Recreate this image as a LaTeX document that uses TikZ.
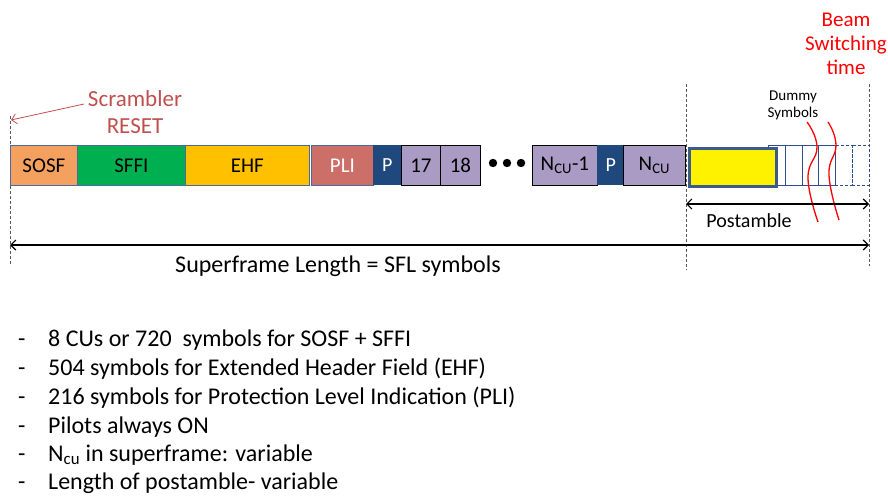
\documentclass[tikz,border=0pt]{standalone}
\usepackage{fontspec}
\setmainfont{Carlito}
\usetikzlibrary{arrows.meta}
\definecolor{sosf}{HTML}{F4A15F}
\definecolor{sffi}{HTML}{00B050}
\definecolor{ehf}{HTML}{FFC000}
\definecolor{pli}{HTML}{CD6F69}
\definecolor{pil}{HTML}{1F497D}
\definecolor{cu}{HTML}{A99BC4}
\definecolor{edge}{HTML}{4A6A9E}
\definecolor{scr}{HTML}{C0504D}
\definecolor{post}{HTML}{3C5A8A}
\definecolor{dum}{HTML}{2E4D8F}
\tikzset{
  seg/.style={draw=edge, line width=0.8pt, inner sep=0pt, font=\fontsize{21}{24}\selectfont},
  cubox/.style={draw=black, line width=0.8pt, fill=cu, inner sep=0pt, font=\fontsize{21}{24}\selectfont},
  pbox/.style={fill=pil, text=white, inner sep=0pt, font=\fontsize{20}{22}\selectfont},
  guide/.style={densely dashed, gray!70!black, line width=0.5pt},
  meas/.style={line width=1.2pt, {Straight Barb[length=5pt]}-{Straight Barb[length=5pt]}},
  bullet/.style={anchor=base west, inner sep=0pt, font=\fontsize{24}{28}\selectfont},
  wave/.style={red, line width=1.3pt},
  dbox/.style={draw=dum, line width=0.7pt}
}
\begin{document}
\begin{tikzpicture}[x=1pt,y=-1pt]
\useasboundingbox (0,0) rectangle (888,495);
% guides
\draw[guide] (10,116) -- (10,266);
\draw[guide] (686,84) -- (686,270);
\draw[guide] (869,84) -- (869,266);
% bar segments
\node[seg, fill=sosf, minimum width=67pt, minimum height=40pt, anchor=north west] (sosf) at (10,145) {SOSF};
\node[seg, fill=sffi, minimum width=108pt, minimum height=40pt, anchor=north west] (sffi) at (77,145) {SFFI};
\node[seg, fill=ehf, minimum width=124pt, minimum height=40pt, anchor=north west] (ehf) at (185,145) {EHF};
\node[seg, fill=pli, text=white, minimum width=62pt, minimum height=40pt, anchor=north west] (pli) at (311,145) {PLI};
\node[pbox, minimum width=28pt, minimum height=40pt, anchor=north west] (p1) at (373,145) {P};
\node[cubox, minimum width=39pt, minimum height=40pt, anchor=north west] (c17) at (401,145) {17};
\node[cubox, minimum width=40pt, minimum height=40pt, anchor=north west] (c18) at (440,145) {18};
\foreach \x/\n in {493/d1,507/d2,521/d3} \fill (\x,163) circle (4.2pt);
\node[cubox, minimum width=65pt, minimum height=40pt, anchor=north west] (cn1) at (532,145) {N\textsubscript{CU}-1};
\node[pbox, minimum width=27pt, minimum height=40pt, anchor=north west] (p2) at (597,145) {P};
\node[cubox, minimum width=62pt, minimum height=40pt, anchor=north west] (cn) at (623,145) {N\textsubscript{CU}};
\fill[pil] (620,145) rectangle (623,185);
% dummy symbols
\foreach \a/\b in {768/785,785/802,802/818,818/835} \draw[dbox] (\a,145) rectangle (\b,185);
\foreach \a/\b in {835/852,852/869} \draw[dbox, densely dashed] (\a,145) rectangle (\b,185);
% postamble block
\node[draw=post, line width=3pt, fill=yellow, minimum width=87pt, minimum height=38pt, inner sep=0pt, anchor=north west] (pa) at (687.5,146.5) {};
% red waves
\draw[wave] plot[smooth, tension=0.8] coordinates {(807,122) (817,147) (808,178) (818,222)};
\draw[wave] plot[smooth, tension=0.8] coordinates {(828,122) (836,145) (829,175) (839,220)};
% labels
\node[font=\fontsize{15}{17}\selectfont, align=center, inner sep=0pt] (dummy) at (793,105) {Dummy\\Symbols};
\node[text=red, font=\fontsize{21}{24}\selectfont, align=center, inner sep=0pt] (beam) at (846,44) {Beam\\Switching\\time};
\node[text=scr, font=\fontsize{23}{27}\selectfont, align=center, inner sep=0pt] (scr) at (135,112) {Scrambler\\RESET};
\coordinate (rst) at (11,120);
\draw[scr, line width=0.8pt, -{Straight Barb[length=5pt]}] (84,104) -- (rst);
% measures
\coordinate (pl) at (686,204);
\coordinate (pr) at (869,204);
\draw[meas] (pl) -- (pr);
\node[font=\fontsize{20}{24}\selectfont, inner sep=0pt] (postl) at (749,221) {Postamble};
\coordinate (sl) at (10,245);
\coordinate (sr) at (869,245);
\draw[meas] (sl) -- (sr);
\node[font=\fontsize{24}{28}\selectfont, inner sep=0pt] (sfl) at (338,266) {Superframe Length = SFL symbols};
% bullets
\foreach \y/\t [count=\i] in {
  346/{8 CUs or 720\ \ symbols for SOSF + SFFI},
  375/{504 symbols for Extended Header Field (EHF)},
  404/{216 symbols for Protection Level Indication (PLI)},
  433/{Pilots always ON},
  461/{N\textsubscript{cu} in superframe: variable},
  489/{Length of postamble- variable}} {
  \node[bullet] (dash\i) at (18,\y) {-};
  \node[bullet] (b\i) at (48,\y) {\t};
}
\end{tikzpicture}
\end{document}
